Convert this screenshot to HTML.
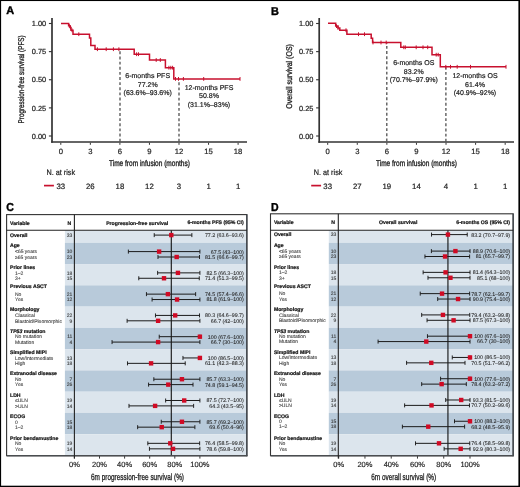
<!DOCTYPE html>
<html><head><meta charset="utf-8"><style>
html,body{margin:0;padding:0;background:#fff;}
body{width:520px;height:487px;overflow:hidden;}
svg{display:block;font-family:"Liberation Sans", sans-serif;text-rendering:geometricPrecision;will-change:transform;}
.km text{stroke:#222;stroke-width:.2px;}
.km text.t{stroke-width:.32px;}
text.L{stroke:#000 !important;stroke-width:.4px !important;}
.fp text[font-weight=bold]{stroke:#111;stroke-width:.2px;}
.fp text{stroke:#333;stroke-width:.08px;}
.fp text.ax{stroke:#222;stroke-width:.15px;}
.fp text.axt{stroke:#222;stroke-width:.3px;}
</style></head><body>
<svg width="520" height="487" viewBox="0 0 520 487">
<rect x="0" y="0" width="520" height="487" fill="#fff"/>
<g class="km">
<text x="6.2" y="14.14" font-size="11" text-anchor="start" fill="#000" font-weight="bold" textLength="7.9" lengthAdjust="spacingAndGlyphs" class="L">A</text>
<line x1="52" y1="18" x2="52" y2="142.8" stroke="#333" stroke-width="1.7" />
<line x1="48.9" y1="136" x2="52" y2="136" stroke="#333" stroke-width="1.1" />
<text x="46.2" y="138.65" font-size="7.4" text-anchor="end" fill="#222">0.00</text>
<line x1="48.9" y1="107.88" x2="52" y2="107.88" stroke="#333" stroke-width="1.1" />
<text x="46.2" y="110.52" font-size="7.4" text-anchor="end" fill="#222">0.25</text>
<line x1="48.9" y1="79.75" x2="52" y2="79.75" stroke="#333" stroke-width="1.1" />
<text x="46.2" y="82.4" font-size="7.4" text-anchor="end" fill="#222">0.50</text>
<line x1="48.9" y1="51.62" x2="52" y2="51.62" stroke="#333" stroke-width="1.1" />
<text x="46.2" y="54.27" font-size="7.4" text-anchor="end" fill="#222">0.75</text>
<line x1="48.9" y1="23.5" x2="52" y2="23.5" stroke="#333" stroke-width="1.1" />
<text x="46.2" y="26.15" font-size="7.4" text-anchor="end" fill="#222">1.00</text>
<line x1="51.2" y1="142" x2="247" y2="142" stroke="#333" stroke-width="1.6" />
<line x1="60.8" y1="142.8" x2="60.8" y2="144.8" stroke="#333" stroke-width="1" />
<text x="60.8" y="153.76" font-size="7.7" text-anchor="middle" fill="#222">0</text>
<line x1="90.35" y1="142.8" x2="90.35" y2="144.8" stroke="#333" stroke-width="1" />
<text x="90.35" y="153.76" font-size="7.7" text-anchor="middle" fill="#222">3</text>
<line x1="119.9" y1="142.8" x2="119.9" y2="144.8" stroke="#333" stroke-width="1" />
<text x="119.9" y="153.76" font-size="7.7" text-anchor="middle" fill="#222">6</text>
<line x1="149.45" y1="142.8" x2="149.45" y2="144.8" stroke="#333" stroke-width="1" />
<text x="149.45" y="153.76" font-size="7.7" text-anchor="middle" fill="#222">9</text>
<line x1="179" y1="142.8" x2="179" y2="144.8" stroke="#333" stroke-width="1" />
<text x="179" y="153.76" font-size="7.7" text-anchor="middle" fill="#222">12</text>
<line x1="208.55" y1="142.8" x2="208.55" y2="144.8" stroke="#333" stroke-width="1" />
<text x="208.55" y="153.76" font-size="7.7" text-anchor="middle" fill="#222">15</text>
<line x1="238.1" y1="142.8" x2="238.1" y2="144.8" stroke="#333" stroke-width="1" />
<text x="238.1" y="153.76" font-size="7.7" text-anchor="middle" fill="#222">18</text>
<text x="149.45" y="166.17" font-size="8.3" text-anchor="middle" fill="#222" textLength="81" lengthAdjust="spacingAndGlyphs" class="t">Time from infusion (months)</text>
<g transform="translate(21.1,79.4) rotate(-90)">
<text x="0" y="2.97" font-size="8.3" text-anchor="middle" fill="#222" textLength="88" lengthAdjust="spacingAndGlyphs" class="t">Progression-free survival (PFS)</text>
</g>
<line x1="120" y1="49.5" x2="120" y2="142" stroke="#505050" stroke-width="1.3" stroke-dasharray="2.9,2.24" stroke-dashoffset="3.29"/>
<line x1="179" y1="79.5" x2="179" y2="142" stroke="#505050" stroke-width="1.3" stroke-dasharray="2.9,2.24" stroke-dashoffset="2.39"/>
<path d="M61,23.5 H68.6 V25.8 H70 V27.5 H71 V30.3 H73 V34.2 H89.5 V38 H90.8 V45.5 H95 V49.2 H134.2 V54.2 H149.5 V60 H165.4 V67.7 H173.8 V78.9 H240" fill="none" stroke="#c8102e" stroke-width="1.5" stroke-linejoin="miter"/>
<line x1="69.3" y1="23.9" x2="69.3" y2="27.7" stroke="#c8102e" stroke-width="1" />
<line x1="70.5" y1="25.6" x2="70.5" y2="29.4" stroke="#c8102e" stroke-width="1" />
<line x1="72" y1="28.4" x2="72" y2="32.2" stroke="#c8102e" stroke-width="1" />
<line x1="78.8" y1="32.3" x2="78.8" y2="36.1" stroke="#c8102e" stroke-width="1" />
<line x1="97.4" y1="47.3" x2="97.4" y2="51.1" stroke="#c8102e" stroke-width="1" />
<line x1="106.2" y1="47.3" x2="106.2" y2="51.1" stroke="#c8102e" stroke-width="1" />
<line x1="113.4" y1="47.3" x2="113.4" y2="51.1" stroke="#c8102e" stroke-width="1" />
<line x1="118.9" y1="47.3" x2="118.9" y2="51.1" stroke="#c8102e" stroke-width="1" />
<line x1="136.6" y1="52.3" x2="136.6" y2="56.1" stroke="#c8102e" stroke-width="1" />
<line x1="138.5" y1="52.3" x2="138.5" y2="56.1" stroke="#c8102e" stroke-width="1" />
<line x1="156.2" y1="58.1" x2="156.2" y2="61.9" stroke="#c8102e" stroke-width="1" />
<line x1="160.3" y1="58.1" x2="160.3" y2="61.9" stroke="#c8102e" stroke-width="1" />
<line x1="168.9" y1="65.8" x2="168.9" y2="69.6" stroke="#c8102e" stroke-width="1" />
<line x1="170.8" y1="65.8" x2="170.8" y2="69.6" stroke="#c8102e" stroke-width="1" />
<line x1="172.6" y1="65.8" x2="172.6" y2="69.6" stroke="#c8102e" stroke-width="1" />
<line x1="175.5" y1="77" x2="175.5" y2="80.8" stroke="#c8102e" stroke-width="1" />
<line x1="178.5" y1="77" x2="178.5" y2="80.8" stroke="#c8102e" stroke-width="1" />
<line x1="183.4" y1="77" x2="183.4" y2="80.8" stroke="#c8102e" stroke-width="1" />
<line x1="203.7" y1="77" x2="203.7" y2="80.8" stroke="#c8102e" stroke-width="1" />
<line x1="240" y1="77" x2="240" y2="80.8" stroke="#c8102e" stroke-width="1" />
<text x="147.7" y="78.01" font-size="7" text-anchor="middle" fill="#222">6-months PFS</text>
<text x="147.7" y="86.51" font-size="7" text-anchor="middle" fill="#222">77.2%</text>
<text x="147.7" y="95.01" font-size="7" text-anchor="middle" fill="#222">(63.6%–93.6%)</text>
<text x="209" y="89.51" font-size="7" text-anchor="middle" fill="#222">12-months PFS</text>
<text x="209" y="98.01" font-size="7" text-anchor="middle" fill="#222">50.8%</text>
<text x="209" y="106.51" font-size="7" text-anchor="middle" fill="#222">(31.1%–83%)</text>
<text x="46.5" y="175.33" font-size="7.9" text-anchor="start" fill="#222" textLength="28.6" lengthAdjust="spacingAndGlyphs">N. at risk</text>
<line x1="44" y1="185.6" x2="53.9" y2="185.6" stroke="#c8102e" stroke-width="1.7" />
<text x="60.8" y="188.79" font-size="7.8" text-anchor="middle" fill="#222">33</text>
<text x="90.35" y="188.79" font-size="7.8" text-anchor="middle" fill="#222">26</text>
<text x="119.9" y="188.79" font-size="7.8" text-anchor="middle" fill="#222">18</text>
<text x="149.45" y="188.79" font-size="7.8" text-anchor="middle" fill="#222">12</text>
<text x="179" y="188.79" font-size="7.8" text-anchor="middle" fill="#222">3</text>
<text x="208.55" y="188.79" font-size="7.8" text-anchor="middle" fill="#222">1</text>
<text x="238.1" y="188.79" font-size="7.8" text-anchor="middle" fill="#222">1</text>
</g>
<g class="km">
<text x="271.1" y="14.63" font-size="11.4" text-anchor="start" fill="#000" font-weight="bold" textLength="7.9" lengthAdjust="spacingAndGlyphs" class="L">B</text>
<line x1="319.2" y1="18" x2="319.2" y2="142.8" stroke="#333" stroke-width="1.7" />
<line x1="316.1" y1="136" x2="319.2" y2="136" stroke="#333" stroke-width="1.1" />
<text x="313.4" y="138.65" font-size="7.4" text-anchor="end" fill="#222">0.00</text>
<line x1="316.1" y1="107.88" x2="319.2" y2="107.88" stroke="#333" stroke-width="1.1" />
<text x="313.4" y="110.52" font-size="7.4" text-anchor="end" fill="#222">0.25</text>
<line x1="316.1" y1="79.75" x2="319.2" y2="79.75" stroke="#333" stroke-width="1.1" />
<text x="313.4" y="82.4" font-size="7.4" text-anchor="end" fill="#222">0.50</text>
<line x1="316.1" y1="51.62" x2="319.2" y2="51.62" stroke="#333" stroke-width="1.1" />
<text x="313.4" y="54.27" font-size="7.4" text-anchor="end" fill="#222">0.75</text>
<line x1="316.1" y1="23.5" x2="319.2" y2="23.5" stroke="#333" stroke-width="1.1" />
<text x="313.4" y="26.15" font-size="7.4" text-anchor="end" fill="#222">1.00</text>
<line x1="318.4" y1="142" x2="514" y2="142" stroke="#333" stroke-width="1.6" />
<line x1="327.7" y1="142.8" x2="327.7" y2="144.8" stroke="#333" stroke-width="1" />
<text x="327.7" y="153.76" font-size="7.7" text-anchor="middle" fill="#222">0</text>
<line x1="357.28" y1="142.8" x2="357.28" y2="144.8" stroke="#333" stroke-width="1" />
<text x="357.28" y="153.76" font-size="7.7" text-anchor="middle" fill="#222">3</text>
<line x1="386.86" y1="142.8" x2="386.86" y2="144.8" stroke="#333" stroke-width="1" />
<text x="386.86" y="153.76" font-size="7.7" text-anchor="middle" fill="#222">6</text>
<line x1="416.44" y1="142.8" x2="416.44" y2="144.8" stroke="#333" stroke-width="1" />
<text x="416.44" y="153.76" font-size="7.7" text-anchor="middle" fill="#222">9</text>
<line x1="446.02" y1="142.8" x2="446.02" y2="144.8" stroke="#333" stroke-width="1" />
<text x="446.02" y="153.76" font-size="7.7" text-anchor="middle" fill="#222">12</text>
<line x1="475.6" y1="142.8" x2="475.6" y2="144.8" stroke="#333" stroke-width="1" />
<text x="475.6" y="153.76" font-size="7.7" text-anchor="middle" fill="#222">15</text>
<line x1="505.18" y1="142.8" x2="505.18" y2="144.8" stroke="#333" stroke-width="1" />
<text x="505.18" y="153.76" font-size="7.7" text-anchor="middle" fill="#222">18</text>
<text x="416.44" y="166.17" font-size="8.3" text-anchor="middle" fill="#222" textLength="81" lengthAdjust="spacingAndGlyphs" class="t">Time from infusion (months)</text>
<g transform="translate(289.3,76.4) rotate(-90)">
<text x="0" y="2.97" font-size="8.3" text-anchor="middle" fill="#222" textLength="64.6" lengthAdjust="spacingAndGlyphs" class="t">Overall survival (OS)</text>
</g>
<line x1="386.8" y1="42.8" x2="386.8" y2="142" stroke="#505050" stroke-width="1.3" stroke-dasharray="2.9,2.24" stroke-dashoffset="1.99"/>
<line x1="445.9" y1="67.2" x2="445.9" y2="142" stroke="#505050" stroke-width="1.3" stroke-dasharray="2.9,2.24" stroke-dashoffset="0.39"/>
<path d="M328,23.3 H335.7 V26.1 H338 V28 H339.8 V30.2 H346.9 V34.2 H371.2 V38.2 H372.6 V42.5 H400.8 V47.3 H432 V54.7 H440.3 V66.8 H506" fill="none" stroke="#c8102e" stroke-width="1.5" stroke-linejoin="miter"/>
<line x1="336.5" y1="24.2" x2="336.5" y2="28" stroke="#c8102e" stroke-width="1" />
<line x1="338" y1="26.1" x2="338" y2="29.9" stroke="#c8102e" stroke-width="1" />
<line x1="346" y1="28.3" x2="346" y2="32.1" stroke="#c8102e" stroke-width="1" />
<line x1="358.5" y1="32.3" x2="358.5" y2="36.1" stroke="#c8102e" stroke-width="1" />
<line x1="364.5" y1="32.3" x2="364.5" y2="36.1" stroke="#c8102e" stroke-width="1" />
<line x1="373" y1="40.6" x2="373" y2="44.4" stroke="#c8102e" stroke-width="1" />
<line x1="381" y1="40.6" x2="381" y2="44.4" stroke="#c8102e" stroke-width="1" />
<line x1="386.2" y1="40.6" x2="386.2" y2="44.4" stroke="#c8102e" stroke-width="1" />
<line x1="403.8" y1="45.4" x2="403.8" y2="49.2" stroke="#c8102e" stroke-width="1" />
<line x1="405.3" y1="45.4" x2="405.3" y2="49.2" stroke="#c8102e" stroke-width="1" />
<line x1="416.2" y1="45.4" x2="416.2" y2="49.2" stroke="#c8102e" stroke-width="1" />
<line x1="423" y1="45.4" x2="423" y2="49.2" stroke="#c8102e" stroke-width="1" />
<line x1="427.7" y1="45.4" x2="427.7" y2="49.2" stroke="#c8102e" stroke-width="1" />
<line x1="436.2" y1="52.8" x2="436.2" y2="56.6" stroke="#c8102e" stroke-width="1" />
<line x1="438.2" y1="52.8" x2="438.2" y2="56.6" stroke="#c8102e" stroke-width="1" />
<line x1="445.8" y1="64.9" x2="445.8" y2="68.7" stroke="#c8102e" stroke-width="1" />
<line x1="450.5" y1="64.9" x2="450.5" y2="68.7" stroke="#c8102e" stroke-width="1" />
<line x1="457.2" y1="64.9" x2="457.2" y2="68.7" stroke="#c8102e" stroke-width="1" />
<line x1="470.5" y1="64.9" x2="470.5" y2="68.7" stroke="#c8102e" stroke-width="1" />
<line x1="506" y1="64.9" x2="506" y2="68.7" stroke="#c8102e" stroke-width="1" />
<text x="413.8" y="64.91" font-size="7" text-anchor="middle" fill="#222">6-months OS</text>
<text x="413.8" y="73.51" font-size="7" text-anchor="middle" fill="#222">83.2%</text>
<text x="413.8" y="82.01" font-size="7" text-anchor="middle" fill="#222">(70.7%–97.9%)</text>
<text x="475" y="78.31" font-size="7" text-anchor="middle" fill="#222">12-months OS</text>
<text x="475" y="86.91" font-size="7" text-anchor="middle" fill="#222">61.4%</text>
<text x="475" y="95.31" font-size="7" text-anchor="middle" fill="#222">(40.9%–92%)</text>
<text x="313.8" y="175.33" font-size="7.9" text-anchor="start" fill="#222" textLength="28.6" lengthAdjust="spacingAndGlyphs">N. at risk</text>
<line x1="311.2" y1="185.6" x2="321.1" y2="185.6" stroke="#c8102e" stroke-width="1.7" />
<text x="327.7" y="188.79" font-size="7.8" text-anchor="middle" fill="#222">33</text>
<text x="357.28" y="188.79" font-size="7.8" text-anchor="middle" fill="#222">27</text>
<text x="386.86" y="188.79" font-size="7.8" text-anchor="middle" fill="#222">19</text>
<text x="416.44" y="188.79" font-size="7.8" text-anchor="middle" fill="#222">14</text>
<text x="446.02" y="188.79" font-size="7.8" text-anchor="middle" fill="#222">4</text>
<text x="475.6" y="188.79" font-size="7.8" text-anchor="middle" fill="#222">1</text>
<text x="505.18" y="188.79" font-size="7.8" text-anchor="middle" fill="#222">1</text>
</g>
<g class="fp">
<text x="6.3" y="210.87" font-size="11.5" text-anchor="start" fill="#000" font-weight="bold" textLength="7.6" lengthAdjust="spacingAndGlyphs" class="L">C</text>
<rect x="64.9" y="230.3" width="182" height="12.5" fill="#dce5ed" />
<rect x="64.9" y="242.8" width="182" height="21.27" fill="#b8cada" />
<rect x="64.9" y="264.07" width="182" height="21.27" fill="#dce5ed" />
<rect x="64.9" y="285.34" width="182" height="21.27" fill="#b8cada" />
<rect x="64.9" y="306.61" width="182" height="21.27" fill="#dce5ed" />
<rect x="64.9" y="327.88" width="182" height="21.27" fill="#b8cada" />
<rect x="64.9" y="349.15" width="182" height="21.27" fill="#dce5ed" />
<rect x="64.9" y="370.42" width="182" height="21.27" fill="#b8cada" />
<rect x="64.9" y="391.69" width="182" height="21.27" fill="#dce5ed" />
<rect x="64.9" y="412.96" width="182" height="21.27" fill="#b8cada" />
<rect x="64.9" y="434.23" width="182" height="21.27" fill="#dce5ed" />
<line x1="171.29" y1="230.3" x2="171.29" y2="455.6" stroke="#111" stroke-width="1.1" />
<line x1="74.4" y1="455.6" x2="74.4" y2="458.6" stroke="#222" stroke-width="0.9" />
<text x="74.4" y="467.29" font-size="7.5" text-anchor="middle" fill="#222" class="ax">0%</text>
<line x1="99.5" y1="455.6" x2="99.5" y2="458.6" stroke="#222" stroke-width="0.9" />
<text x="99.5" y="467.29" font-size="7.5" text-anchor="middle" fill="#222" class="ax">20%</text>
<line x1="124.6" y1="455.6" x2="124.6" y2="458.6" stroke="#222" stroke-width="0.9" />
<text x="124.6" y="467.29" font-size="7.5" text-anchor="middle" fill="#222" class="ax">40%</text>
<line x1="149.7" y1="455.6" x2="149.7" y2="458.6" stroke="#222" stroke-width="0.9" />
<text x="149.7" y="467.29" font-size="7.5" text-anchor="middle" fill="#222" class="ax">60%</text>
<line x1="174.8" y1="455.6" x2="174.8" y2="458.6" stroke="#222" stroke-width="0.9" />
<text x="174.8" y="467.29" font-size="7.5" text-anchor="middle" fill="#222" class="ax">80%</text>
<line x1="199.9" y1="455.6" x2="199.9" y2="458.6" stroke="#222" stroke-width="0.9" />
<text x="199.9" y="467.29" font-size="7.5" text-anchor="middle" fill="#222" class="ax">100%</text>
<text x="137.5" y="479.82" font-size="9" text-anchor="middle" fill="#222" textLength="93" lengthAdjust="spacingAndGlyphs" class="axt">6m progression-free survival (%)</text>
<rect x="6.6" y="214.6" width="240.3" height="241" fill="none" stroke="#333" stroke-width="1.1"/>
<line x1="246.8" y1="214.6" x2="246.8" y2="456.2" stroke="#3c434a" stroke-width="1.2" />
<line x1="6.6" y1="455.8" x2="247.4" y2="455.8" stroke="#4a4d50" stroke-width="1.5" />
<line x1="6.6" y1="230.3" x2="246.9" y2="230.3" stroke="#222" stroke-width="1.1" />
<line x1="74.4" y1="214.6" x2="74.4" y2="458.6" stroke="#222" stroke-width="1.1" />
<text x="10" y="224.84" font-size="5.15" text-anchor="start" fill="#111" font-weight="bold">Variable</text>
<text x="69.3" y="224.74" font-size="5.15" text-anchor="middle" fill="#111" font-weight="bold">N</text>
<text x="137.2" y="224.74" font-size="5.15" text-anchor="middle" fill="#111" font-weight="bold">Progression-free survival</text>
<text x="243.7" y="224.44" font-size="5.15" text-anchor="end" fill="#111" font-weight="bold">6-months PFS (95% CI)</text>
<text x="10" y="236.94" font-size="5.15" text-anchor="start" fill="#111" font-weight="bold">Overall</text>
<text x="72.4" y="236.89" font-size="5" text-anchor="end" fill="#333">33</text>
<line x1="154.22" y1="235.1" x2="191.87" y2="235.1" stroke="#1a1a1a" stroke-width="1" />
<line x1="154.22" y1="233.1" x2="154.22" y2="237.1" stroke="#1a1a1a" stroke-width="0.95" />
<line x1="191.87" y1="233.1" x2="191.87" y2="237.1" stroke="#1a1a1a" stroke-width="0.95" />
<rect x="169.09" y="232.9" width="4.4" height="4.4" fill="#d00a24" />
<text x="243.8" y="237" font-size="5.3" text-anchor="end" fill="#222">77.2 (63.6–93.6)</text>
<text x="10" y="246.84" font-size="5.15" text-anchor="start" fill="#111" font-weight="bold">Age</text>
<text x="15" y="253.39" font-size="5" text-anchor="start" fill="#3a3a3a">&lt;65 years</text>
<text x="15" y="258.79" font-size="5" text-anchor="start" fill="#3a3a3a">≥65 years</text>
<text x="72.4" y="253.39" font-size="5" text-anchor="end" fill="#333">10</text>
<line x1="128.37" y1="251.6" x2="199.9" y2="251.6" stroke="#1a1a1a" stroke-width="1" />
<line x1="128.37" y1="249.6" x2="128.37" y2="253.6" stroke="#1a1a1a" stroke-width="0.95" />
<line x1="199.9" y1="249.6" x2="199.9" y2="253.6" stroke="#1a1a1a" stroke-width="0.95" />
<rect x="156.91" y="249.4" width="4.4" height="4.4" fill="#d00a24" />
<text x="243.8" y="253.5" font-size="5.3" text-anchor="end" fill="#222">67.5 (43–100)</text>
<text x="72.4" y="258.79" font-size="5" text-anchor="end" fill="#333">23</text>
<line x1="157.98" y1="257" x2="199.52" y2="257" stroke="#1a1a1a" stroke-width="1" />
<line x1="157.98" y1="255" x2="157.98" y2="259" stroke="#1a1a1a" stroke-width="0.95" />
<line x1="199.52" y1="255" x2="199.52" y2="259" stroke="#1a1a1a" stroke-width="0.95" />
<rect x="174.48" y="254.8" width="4.4" height="4.4" fill="#d00a24" />
<text x="243.8" y="258.9" font-size="5.3" text-anchor="end" fill="#222">81.5 (66.6–99.7)</text>
<text x="10" y="269.41" font-size="5.15" text-anchor="start" fill="#111" font-weight="bold">Prior lines</text>
<text x="15" y="274.66" font-size="5" text-anchor="start" fill="#3a3a3a">1–2</text>
<text x="15" y="280.06" font-size="5" text-anchor="start" fill="#3a3a3a">3+</text>
<text x="72.4" y="274.66" font-size="5" text-anchor="end" fill="#333">18</text>
<line x1="157.61" y1="272.87" x2="199.9" y2="272.87" stroke="#1a1a1a" stroke-width="1" />
<line x1="157.61" y1="270.87" x2="157.61" y2="274.87" stroke="#1a1a1a" stroke-width="0.95" />
<line x1="199.9" y1="270.87" x2="199.9" y2="274.87" stroke="#1a1a1a" stroke-width="0.95" />
<rect x="175.74" y="270.67" width="4.4" height="4.4" fill="#d00a24" />
<text x="243.8" y="274.77" font-size="5.3" text-anchor="end" fill="#222">82.5 (66.3–100)</text>
<text x="72.4" y="280.06" font-size="5" text-anchor="end" fill="#333">15</text>
<line x1="138.78" y1="278.27" x2="199.27" y2="278.27" stroke="#1a1a1a" stroke-width="1" />
<line x1="138.78" y1="276.27" x2="138.78" y2="280.27" stroke="#1a1a1a" stroke-width="0.95" />
<line x1="199.27" y1="276.27" x2="199.27" y2="280.27" stroke="#1a1a1a" stroke-width="0.95" />
<rect x="161.81" y="276.07" width="4.4" height="4.4" fill="#d00a24" />
<text x="243.8" y="280.17" font-size="5.3" text-anchor="end" fill="#222">71.4 (51.3–99.5)</text>
<text x="10" y="288.18" font-size="5.15" text-anchor="start" fill="#111" font-weight="bold">Previous ASCT</text>
<text x="15" y="295.93" font-size="5" text-anchor="start" fill="#3a3a3a">No</text>
<text x="15" y="301.33" font-size="5" text-anchor="start" fill="#3a3a3a">Yes</text>
<text x="72.4" y="295.93" font-size="5" text-anchor="end" fill="#333">21</text>
<line x1="146.44" y1="294.14" x2="195.63" y2="294.14" stroke="#1a1a1a" stroke-width="1" />
<line x1="146.44" y1="292.14" x2="146.44" y2="296.14" stroke="#1a1a1a" stroke-width="0.95" />
<line x1="195.63" y1="292.14" x2="195.63" y2="296.14" stroke="#1a1a1a" stroke-width="0.95" />
<rect x="165.7" y="291.94" width="4.4" height="4.4" fill="#d00a24" />
<text x="243.8" y="296.04" font-size="5.3" text-anchor="end" fill="#222">74.5 (57.4–96.6)</text>
<text x="72.4" y="301.33" font-size="5" text-anchor="end" fill="#333">12</text>
<line x1="152.08" y1="299.54" x2="199.9" y2="299.54" stroke="#1a1a1a" stroke-width="1" />
<line x1="152.08" y1="297.54" x2="152.08" y2="301.54" stroke="#1a1a1a" stroke-width="0.95" />
<line x1="199.9" y1="297.54" x2="199.9" y2="301.54" stroke="#1a1a1a" stroke-width="0.95" />
<rect x="174.86" y="297.34" width="4.4" height="4.4" fill="#d00a24" />
<text x="243.8" y="301.44" font-size="5.3" text-anchor="end" fill="#222">81.8 (61.9–100)</text>
<text x="10" y="311.35" font-size="5.15" text-anchor="start" fill="#111" font-weight="bold">Morphology</text>
<text x="15" y="317.2" font-size="5" text-anchor="start" fill="#3a3a3a">Classical</text>
<text x="15" y="322.6" font-size="5" text-anchor="start" fill="#3a3a3a">Blastoid/Pleomorphic</text>
<text x="72.4" y="317.2" font-size="5" text-anchor="end" fill="#333">22</text>
<line x1="155.47" y1="315.41" x2="199.52" y2="315.41" stroke="#1a1a1a" stroke-width="1" />
<line x1="155.47" y1="313.41" x2="155.47" y2="317.41" stroke="#1a1a1a" stroke-width="0.95" />
<line x1="199.52" y1="313.41" x2="199.52" y2="317.41" stroke="#1a1a1a" stroke-width="0.95" />
<rect x="172.98" y="313.21" width="4.4" height="4.4" fill="#d00a24" />
<text x="243.8" y="317.31" font-size="5.3" text-anchor="end" fill="#222">80.3 (64.6–99.7)</text>
<text x="72.4" y="322.6" font-size="5" text-anchor="end" fill="#333">9</text>
<line x1="127.11" y1="320.81" x2="199.9" y2="320.81" stroke="#1a1a1a" stroke-width="1" />
<line x1="127.11" y1="318.81" x2="127.11" y2="322.81" stroke="#1a1a1a" stroke-width="0.95" />
<line x1="199.9" y1="318.81" x2="199.9" y2="322.81" stroke="#1a1a1a" stroke-width="0.95" />
<rect x="155.91" y="318.61" width="4.4" height="4.4" fill="#d00a24" />
<text x="243.8" y="322.71" font-size="5.3" text-anchor="end" fill="#222">66.7 (42–100)</text>
<text x="10" y="333.42" font-size="5.15" font-weight="bold" fill="#111"><tspan font-style="italic">TP53</tspan> mutation</text>
<text x="15" y="338.47" font-size="5" text-anchor="start" fill="#3a3a3a">No mutation</text>
<text x="15" y="343.87" font-size="5" text-anchor="start" fill="#3a3a3a">Mutation</text>
<text x="72.4" y="338.47" font-size="5" text-anchor="end" fill="#333">11</text>
<line x1="159.24" y1="336.68" x2="199.9" y2="336.68" stroke="#1a1a1a" stroke-width="1" />
<line x1="159.24" y1="334.68" x2="159.24" y2="338.68" stroke="#1a1a1a" stroke-width="0.95" />
<line x1="199.9" y1="334.68" x2="199.9" y2="338.68" stroke="#1a1a1a" stroke-width="0.95" />
<rect x="197.7" y="334.48" width="4.4" height="4.4" fill="#d00a24" />
<text x="243.8" y="338.58" font-size="5.3" text-anchor="end" fill="#222">100 (67.6–100)</text>
<text x="72.4" y="343.87" font-size="5" text-anchor="end" fill="#333">4</text>
<line x1="112.05" y1="342.08" x2="199.9" y2="342.08" stroke="#1a1a1a" stroke-width="1" />
<line x1="112.05" y1="340.08" x2="112.05" y2="344.08" stroke="#1a1a1a" stroke-width="0.95" />
<line x1="199.9" y1="340.08" x2="199.9" y2="344.08" stroke="#1a1a1a" stroke-width="0.95" />
<rect x="155.91" y="339.88" width="4.4" height="4.4" fill="#d00a24" />
<text x="243.8" y="343.98" font-size="5.3" text-anchor="end" fill="#222">66.7 (30–100)</text>
<text x="10" y="353.99" font-size="5.15" text-anchor="start" fill="#111" font-weight="bold">Simplified MIPI</text>
<text x="15" y="359.74" font-size="5" text-anchor="start" fill="#3a3a3a">Low/Intermediate</text>
<text x="15" y="365.14" font-size="5" text-anchor="start" fill="#3a3a3a">High</text>
<text x="72.4" y="359.74" font-size="5" text-anchor="end" fill="#333">13</text>
<line x1="182.96" y1="357.95" x2="199.9" y2="357.95" stroke="#1a1a1a" stroke-width="1" />
<line x1="182.96" y1="355.95" x2="182.96" y2="359.95" stroke="#1a1a1a" stroke-width="0.95" />
<line x1="199.9" y1="355.95" x2="199.9" y2="359.95" stroke="#1a1a1a" stroke-width="0.95" />
<rect x="197.7" y="355.75" width="4.4" height="4.4" fill="#d00a24" />
<text x="243.8" y="359.85" font-size="5.3" text-anchor="end" fill="#222">100 (86.5–100)</text>
<text x="72.4" y="365.14" font-size="5" text-anchor="end" fill="#333">18</text>
<line x1="127.49" y1="363.35" x2="185.22" y2="363.35" stroke="#1a1a1a" stroke-width="1" />
<line x1="127.49" y1="361.35" x2="127.49" y2="365.35" stroke="#1a1a1a" stroke-width="0.95" />
<line x1="185.22" y1="361.35" x2="185.22" y2="365.35" stroke="#1a1a1a" stroke-width="0.95" />
<rect x="148.88" y="361.15" width="4.4" height="4.4" fill="#d00a24" />
<text x="243.8" y="365.25" font-size="5.3" text-anchor="end" fill="#222">61.1 (42.3–88.3)</text>
<text x="10" y="374.86" font-size="5.15" text-anchor="start" fill="#111" font-weight="bold">Extranodal disease</text>
<text x="15" y="381.01" font-size="5" text-anchor="start" fill="#3a3a3a">No</text>
<text x="15" y="386.41" font-size="5" text-anchor="start" fill="#3a3a3a">Yes</text>
<text x="72.4" y="381.01" font-size="5" text-anchor="end" fill="#333">7</text>
<line x1="153.84" y1="379.22" x2="199.9" y2="379.22" stroke="#1a1a1a" stroke-width="1" />
<line x1="153.84" y1="377.22" x2="153.84" y2="381.22" stroke="#1a1a1a" stroke-width="0.95" />
<line x1="199.9" y1="377.22" x2="199.9" y2="381.22" stroke="#1a1a1a" stroke-width="0.95" />
<rect x="179.75" y="377.02" width="4.4" height="4.4" fill="#d00a24" />
<text x="243.8" y="381.12" font-size="5.3" text-anchor="end" fill="#222">85.7 (63.3–100)</text>
<text x="72.4" y="386.41" font-size="5" text-anchor="end" fill="#333">26</text>
<line x1="148.57" y1="384.62" x2="193" y2="384.62" stroke="#1a1a1a" stroke-width="1" />
<line x1="148.57" y1="382.62" x2="148.57" y2="386.62" stroke="#1a1a1a" stroke-width="0.95" />
<line x1="193" y1="382.62" x2="193" y2="386.62" stroke="#1a1a1a" stroke-width="0.95" />
<rect x="166.07" y="382.42" width="4.4" height="4.4" fill="#d00a24" />
<text x="243.8" y="386.52" font-size="5.3" text-anchor="end" fill="#222">74.8 (59.1–94.5)</text>
<text x="10" y="396.93" font-size="5.15" text-anchor="start" fill="#111" font-weight="bold">LDH</text>
<text x="15" y="402.28" font-size="5" text-anchor="start" fill="#3a3a3a">≤ULN</text>
<text x="15" y="407.68" font-size="5" text-anchor="start" fill="#3a3a3a">&gt;ULN</text>
<text x="72.4" y="402.28" font-size="5" text-anchor="end" fill="#333">19</text>
<line x1="165.64" y1="400.49" x2="199.9" y2="400.49" stroke="#1a1a1a" stroke-width="1" />
<line x1="165.64" y1="398.49" x2="165.64" y2="402.49" stroke="#1a1a1a" stroke-width="0.95" />
<line x1="199.9" y1="398.49" x2="199.9" y2="402.49" stroke="#1a1a1a" stroke-width="0.95" />
<rect x="182.01" y="398.29" width="4.4" height="4.4" fill="#d00a24" />
<text x="243.8" y="402.39" font-size="5.3" text-anchor="end" fill="#222">87.5 (72.7–100)</text>
<text x="72.4" y="407.68" font-size="5" text-anchor="end" fill="#333">14</text>
<line x1="128.99" y1="405.89" x2="193.62" y2="405.89" stroke="#1a1a1a" stroke-width="1" />
<line x1="128.99" y1="403.89" x2="128.99" y2="407.89" stroke="#1a1a1a" stroke-width="0.95" />
<line x1="193.62" y1="403.89" x2="193.62" y2="407.89" stroke="#1a1a1a" stroke-width="0.95" />
<rect x="152.9" y="403.69" width="4.4" height="4.4" fill="#d00a24" />
<text x="243.8" y="407.79" font-size="5.3" text-anchor="end" fill="#222">64.3 (43.5–95)</text>
<text x="10" y="418.1" font-size="5.15" text-anchor="start" fill="#111" font-weight="bold">ECOG</text>
<text x="15" y="423.55" font-size="5" text-anchor="start" fill="#3a3a3a">0</text>
<text x="15" y="428.95" font-size="5" text-anchor="start" fill="#3a3a3a">1–2</text>
<text x="72.4" y="423.55" font-size="5" text-anchor="end" fill="#333">15</text>
<line x1="161.25" y1="421.76" x2="199.9" y2="421.76" stroke="#1a1a1a" stroke-width="1" />
<line x1="161.25" y1="419.76" x2="161.25" y2="423.76" stroke="#1a1a1a" stroke-width="0.95" />
<line x1="199.9" y1="419.76" x2="199.9" y2="423.76" stroke="#1a1a1a" stroke-width="0.95" />
<rect x="179.75" y="419.56" width="4.4" height="4.4" fill="#d00a24" />
<text x="243.8" y="423.66" font-size="5.3" text-anchor="end" fill="#222">85.7 (69.2–100)</text>
<text x="72.4" y="428.95" font-size="5" text-anchor="end" fill="#333">18</text>
<line x1="137.65" y1="427.16" x2="194.88" y2="427.16" stroke="#1a1a1a" stroke-width="1" />
<line x1="137.65" y1="425.16" x2="137.65" y2="429.16" stroke="#1a1a1a" stroke-width="0.95" />
<line x1="194.88" y1="425.16" x2="194.88" y2="429.16" stroke="#1a1a1a" stroke-width="0.95" />
<rect x="159.55" y="424.96" width="4.4" height="4.4" fill="#d00a24" />
<text x="243.8" y="429.06" font-size="5.3" text-anchor="end" fill="#222">69.6 (50.4–96)</text>
<text x="10" y="440.17" font-size="5.15" text-anchor="start" fill="#111" font-weight="bold">Prior bendamustine</text>
<text x="15" y="445.12" font-size="5" text-anchor="start" fill="#3a3a3a">No</text>
<text x="15" y="450.62" font-size="5" text-anchor="start" fill="#3a3a3a">Yes</text>
<text x="72.4" y="445.12" font-size="5" text-anchor="end" fill="#333">19</text>
<line x1="147.82" y1="443.33" x2="199.65" y2="443.33" stroke="#1a1a1a" stroke-width="1" />
<line x1="147.82" y1="441.33" x2="147.82" y2="445.33" stroke="#1a1a1a" stroke-width="0.95" />
<line x1="199.65" y1="441.33" x2="199.65" y2="445.33" stroke="#1a1a1a" stroke-width="0.95" />
<rect x="168.08" y="441.13" width="4.4" height="4.4" fill="#d00a24" />
<text x="243.8" y="445.23" font-size="5.3" text-anchor="end" fill="#222">76.4 (58.5–99.8)</text>
<text x="72.4" y="450.62" font-size="5" text-anchor="end" fill="#333">14</text>
<line x1="149.45" y1="448.83" x2="199.9" y2="448.83" stroke="#1a1a1a" stroke-width="1" />
<line x1="149.45" y1="446.83" x2="149.45" y2="450.83" stroke="#1a1a1a" stroke-width="0.95" />
<line x1="199.9" y1="446.83" x2="199.9" y2="450.83" stroke="#1a1a1a" stroke-width="0.95" />
<rect x="170.84" y="446.63" width="4.4" height="4.4" fill="#d00a24" />
<text x="243.8" y="450.73" font-size="5.3" text-anchor="end" fill="#222">78.6 (59.8–100)</text>
</g>
<g class="fp">
<text x="271.1" y="210.87" font-size="11.5" text-anchor="start" fill="#000" font-weight="bold" textLength="7.6" lengthAdjust="spacingAndGlyphs" class="L">D</text>
<rect x="328.8" y="230.3" width="184.4" height="12.5" fill="#dce5ed" />
<rect x="328.8" y="242.8" width="184.4" height="21.27" fill="#b8cada" />
<rect x="328.8" y="264.07" width="184.4" height="21.27" fill="#dce5ed" />
<rect x="328.8" y="285.34" width="184.4" height="21.27" fill="#b8cada" />
<rect x="328.8" y="306.61" width="184.4" height="21.27" fill="#dce5ed" />
<rect x="328.8" y="327.88" width="184.4" height="21.27" fill="#b8cada" />
<rect x="328.8" y="349.15" width="184.4" height="21.27" fill="#dce5ed" />
<rect x="328.8" y="370.42" width="184.4" height="21.27" fill="#b8cada" />
<rect x="328.8" y="391.69" width="184.4" height="21.27" fill="#dce5ed" />
<rect x="328.8" y="412.96" width="184.4" height="21.27" fill="#b8cada" />
<rect x="328.8" y="434.23" width="184.4" height="21.27" fill="#dce5ed" />
<line x1="447.94" y1="230.3" x2="447.94" y2="455.6" stroke="#111" stroke-width="1.1" />
<line x1="338.7" y1="455.6" x2="338.7" y2="458.6" stroke="#222" stroke-width="0.9" />
<text x="338.7" y="467.29" font-size="7.5" text-anchor="middle" fill="#222" class="ax">0%</text>
<line x1="364.96" y1="455.6" x2="364.96" y2="458.6" stroke="#222" stroke-width="0.9" />
<text x="364.96" y="467.29" font-size="7.5" text-anchor="middle" fill="#222" class="ax">20%</text>
<line x1="391.22" y1="455.6" x2="391.22" y2="458.6" stroke="#222" stroke-width="0.9" />
<text x="391.22" y="467.29" font-size="7.5" text-anchor="middle" fill="#222" class="ax">40%</text>
<line x1="417.48" y1="455.6" x2="417.48" y2="458.6" stroke="#222" stroke-width="0.9" />
<text x="417.48" y="467.29" font-size="7.5" text-anchor="middle" fill="#222" class="ax">60%</text>
<line x1="443.74" y1="455.6" x2="443.74" y2="458.6" stroke="#222" stroke-width="0.9" />
<text x="443.74" y="467.29" font-size="7.5" text-anchor="middle" fill="#222" class="ax">80%</text>
<line x1="470" y1="455.6" x2="470" y2="458.6" stroke="#222" stroke-width="0.9" />
<text x="470" y="467.29" font-size="7.5" text-anchor="middle" fill="#222" class="ax">100%</text>
<text x="403.7" y="479.82" font-size="9" text-anchor="middle" fill="#222" textLength="65" lengthAdjust="spacingAndGlyphs" class="axt">6m overall survival (%)</text>
<rect x="270.5" y="213.8" width="242.7" height="241.8" fill="none" stroke="#333" stroke-width="1.1"/>
<line x1="513.1" y1="213.8" x2="513.1" y2="456.2" stroke="#3c434a" stroke-width="1.2" />
<line x1="270.5" y1="455.8" x2="513.7" y2="455.8" stroke="#4a4d50" stroke-width="1.5" />
<line x1="270.5" y1="230.3" x2="513.2" y2="230.3" stroke="#222" stroke-width="1.1" />
<line x1="338.3" y1="213.8" x2="338.3" y2="458.6" stroke="#222" stroke-width="1.1" />
<text x="273.9" y="224.24" font-size="5.15" text-anchor="start" fill="#111" font-weight="bold">Variable</text>
<text x="333.2" y="224.14" font-size="5.15" text-anchor="middle" fill="#111" font-weight="bold">N</text>
<text x="398.2" y="224.14" font-size="5.15" text-anchor="middle" fill="#111" font-weight="bold">Overall survival</text>
<text x="510" y="223.84" font-size="5.15" text-anchor="end" fill="#111" font-weight="bold">6-months OS (95% CI)</text>
<text x="273.9" y="236.44" font-size="5.15" text-anchor="start" fill="#111" font-weight="bold">Overall</text>
<text x="336.3" y="236.39" font-size="5" text-anchor="end" fill="#333">33</text>
<line x1="431.53" y1="234.6" x2="467.24" y2="234.6" stroke="#1a1a1a" stroke-width="1" />
<line x1="431.53" y1="232.6" x2="431.53" y2="236.6" stroke="#1a1a1a" stroke-width="0.95" />
<line x1="467.24" y1="232.6" x2="467.24" y2="236.6" stroke="#1a1a1a" stroke-width="0.95" />
<rect x="445.74" y="232.4" width="4.4" height="4.4" fill="#d00a24" />
<text x="510.1" y="236.5" font-size="5.3" text-anchor="end" fill="#222">83.2 (70.7–97.9)</text>
<text x="273.9" y="246.84" font-size="5.15" text-anchor="start" fill="#111" font-weight="bold">Age</text>
<text x="278.9" y="252.89" font-size="5" text-anchor="start" fill="#3a3a3a">&lt;65 years</text>
<text x="278.9" y="258.29" font-size="5" text-anchor="start" fill="#3a3a3a">≥65 years</text>
<text x="336.3" y="252.89" font-size="5" text-anchor="end" fill="#333">10</text>
<line x1="431.4" y1="251.1" x2="470" y2="251.1" stroke="#1a1a1a" stroke-width="1" />
<line x1="431.4" y1="249.1" x2="431.4" y2="253.1" stroke="#1a1a1a" stroke-width="0.95" />
<line x1="470" y1="249.1" x2="470" y2="253.1" stroke="#1a1a1a" stroke-width="0.95" />
<rect x="453.23" y="248.9" width="4.4" height="4.4" fill="#d00a24" />
<text x="510.1" y="253" font-size="5.3" text-anchor="end" fill="#222">88.9 (70.6–100)</text>
<text x="336.3" y="258.29" font-size="5" text-anchor="end" fill="#333">23</text>
<line x1="424.96" y1="256.5" x2="469.61" y2="256.5" stroke="#1a1a1a" stroke-width="1" />
<line x1="424.96" y1="254.5" x2="424.96" y2="258.5" stroke="#1a1a1a" stroke-width="0.95" />
<line x1="469.61" y1="254.5" x2="469.61" y2="258.5" stroke="#1a1a1a" stroke-width="0.95" />
<rect x="442.85" y="254.3" width="4.4" height="4.4" fill="#d00a24" />
<text x="510.1" y="258.4" font-size="5.3" text-anchor="end" fill="#222">81 (65.7–99.7)</text>
<text x="273.9" y="269.41" font-size="5.15" text-anchor="start" fill="#111" font-weight="bold">Prior lines</text>
<text x="278.9" y="274.16" font-size="5" text-anchor="start" fill="#3a3a3a">1–2</text>
<text x="278.9" y="279.56" font-size="5" text-anchor="start" fill="#3a3a3a">3+</text>
<text x="336.3" y="274.16" font-size="5" text-anchor="end" fill="#333">18</text>
<line x1="423.13" y1="272.37" x2="470" y2="272.37" stroke="#1a1a1a" stroke-width="1" />
<line x1="423.13" y1="270.37" x2="423.13" y2="274.37" stroke="#1a1a1a" stroke-width="0.95" />
<line x1="470" y1="270.37" x2="470" y2="274.37" stroke="#1a1a1a" stroke-width="0.95" />
<rect x="443.38" y="270.17" width="4.4" height="4.4" fill="#d00a24" />
<text x="510.1" y="274.27" font-size="5.3" text-anchor="end" fill="#222">81.4 (64.3–100)</text>
<text x="336.3" y="279.56" font-size="5" text-anchor="end" fill="#333">15</text>
<line x1="427.98" y1="277.77" x2="470" y2="277.77" stroke="#1a1a1a" stroke-width="1" />
<line x1="427.98" y1="275.77" x2="427.98" y2="279.77" stroke="#1a1a1a" stroke-width="0.95" />
<line x1="470" y1="275.77" x2="470" y2="279.77" stroke="#1a1a1a" stroke-width="0.95" />
<rect x="448.24" y="275.57" width="4.4" height="4.4" fill="#d00a24" />
<text x="510.1" y="279.67" font-size="5.3" text-anchor="end" fill="#222">85.1 (68–100)</text>
<text x="273.9" y="288.18" font-size="5.15" text-anchor="start" fill="#111" font-weight="bold">Previous ASCT</text>
<text x="278.9" y="295.43" font-size="5" text-anchor="start" fill="#3a3a3a">No</text>
<text x="278.9" y="300.83" font-size="5" text-anchor="start" fill="#3a3a3a">Yes</text>
<text x="336.3" y="295.43" font-size="5" text-anchor="end" fill="#333">21</text>
<line x1="420.24" y1="293.64" x2="469.61" y2="293.64" stroke="#1a1a1a" stroke-width="1" />
<line x1="420.24" y1="291.64" x2="420.24" y2="295.64" stroke="#1a1a1a" stroke-width="0.95" />
<line x1="469.61" y1="291.64" x2="469.61" y2="295.64" stroke="#1a1a1a" stroke-width="0.95" />
<rect x="439.83" y="291.44" width="4.4" height="4.4" fill="#d00a24" />
<text x="510.1" y="295.54" font-size="5.3" text-anchor="end" fill="#222">78.7 (62.1–99.7)</text>
<text x="336.3" y="300.83" font-size="5" text-anchor="end" fill="#333">12</text>
<line x1="437.7" y1="299.04" x2="470" y2="299.04" stroke="#1a1a1a" stroke-width="1" />
<line x1="437.7" y1="297.04" x2="437.7" y2="301.04" stroke="#1a1a1a" stroke-width="0.95" />
<line x1="470" y1="297.04" x2="470" y2="301.04" stroke="#1a1a1a" stroke-width="0.95" />
<rect x="455.85" y="296.84" width="4.4" height="4.4" fill="#d00a24" />
<text x="510.1" y="300.94" font-size="5.3" text-anchor="end" fill="#222">90.9 (75.4–100)</text>
<text x="273.9" y="311.35" font-size="5.15" text-anchor="start" fill="#111" font-weight="bold">Morphology</text>
<text x="278.9" y="316.7" font-size="5" text-anchor="start" fill="#3a3a3a">Classical</text>
<text x="278.9" y="322.1" font-size="5" text-anchor="start" fill="#3a3a3a">Blastoid/Pleomorphic</text>
<text x="336.3" y="316.7" font-size="5" text-anchor="end" fill="#333">22</text>
<line x1="421.68" y1="314.91" x2="469.74" y2="314.91" stroke="#1a1a1a" stroke-width="1" />
<line x1="421.68" y1="312.91" x2="421.68" y2="316.91" stroke="#1a1a1a" stroke-width="0.95" />
<line x1="469.74" y1="312.91" x2="469.74" y2="316.91" stroke="#1a1a1a" stroke-width="0.95" />
<rect x="440.75" y="312.71" width="4.4" height="4.4" fill="#d00a24" />
<text x="510.1" y="316.81" font-size="5.3" text-anchor="end" fill="#222">79.4 (63.2–99.8)</text>
<text x="336.3" y="322.1" font-size="5" text-anchor="end" fill="#333">9</text>
<line x1="427.06" y1="320.31" x2="470" y2="320.31" stroke="#1a1a1a" stroke-width="1" />
<line x1="427.06" y1="318.31" x2="427.06" y2="322.31" stroke="#1a1a1a" stroke-width="0.95" />
<line x1="470" y1="318.31" x2="470" y2="322.31" stroke="#1a1a1a" stroke-width="0.95" />
<rect x="451.39" y="318.11" width="4.4" height="4.4" fill="#d00a24" />
<text x="510.1" y="322.21" font-size="5.3" text-anchor="end" fill="#222">87.5 (67.3–100)</text>
<text x="273.9" y="333.42" font-size="5.15" font-weight="bold" fill="#111"><tspan font-style="italic">TP53</tspan> mutation</text>
<text x="278.9" y="337.97" font-size="5" text-anchor="start" fill="#3a3a3a">No mutation</text>
<text x="278.9" y="343.37" font-size="5" text-anchor="start" fill="#3a3a3a">Mutation</text>
<text x="336.3" y="337.97" font-size="5" text-anchor="end" fill="#333">11</text>
<line x1="427.46" y1="336.18" x2="470" y2="336.18" stroke="#1a1a1a" stroke-width="1" />
<line x1="427.46" y1="334.18" x2="427.46" y2="338.18" stroke="#1a1a1a" stroke-width="0.95" />
<line x1="470" y1="334.18" x2="470" y2="338.18" stroke="#1a1a1a" stroke-width="0.95" />
<rect x="467.8" y="333.98" width="4.4" height="4.4" fill="#d00a24" />
<text x="510.1" y="338.08" font-size="5.3" text-anchor="end" fill="#222">100 (67.6–100)</text>
<text x="336.3" y="343.37" font-size="5" text-anchor="end" fill="#333">4</text>
<line x1="378.09" y1="341.58" x2="470" y2="341.58" stroke="#1a1a1a" stroke-width="1" />
<line x1="378.09" y1="339.58" x2="378.09" y2="343.58" stroke="#1a1a1a" stroke-width="0.95" />
<line x1="470" y1="339.58" x2="470" y2="343.58" stroke="#1a1a1a" stroke-width="0.95" />
<rect x="424.08" y="339.38" width="4.4" height="4.4" fill="#d00a24" />
<text x="510.1" y="343.48" font-size="5.3" text-anchor="end" fill="#222">66.7 (30–100)</text>
<text x="273.9" y="353.99" font-size="5.15" text-anchor="start" fill="#111" font-weight="bold">Simplified MIPI</text>
<text x="278.9" y="359.24" font-size="5" text-anchor="start" fill="#3a3a3a">Low/Intermediate</text>
<text x="278.9" y="364.64" font-size="5" text-anchor="start" fill="#3a3a3a">High</text>
<text x="336.3" y="359.24" font-size="5" text-anchor="end" fill="#333">13</text>
<line x1="452.27" y1="357.45" x2="470" y2="357.45" stroke="#1a1a1a" stroke-width="1" />
<line x1="452.27" y1="355.45" x2="452.27" y2="359.45" stroke="#1a1a1a" stroke-width="0.95" />
<line x1="470" y1="355.45" x2="470" y2="359.45" stroke="#1a1a1a" stroke-width="0.95" />
<rect x="467.8" y="355.25" width="4.4" height="4.4" fill="#d00a24" />
<text x="510.1" y="359.35" font-size="5.3" text-anchor="end" fill="#222">100 (86.5–100)</text>
<text x="336.3" y="364.64" font-size="5" text-anchor="end" fill="#333">18</text>
<line x1="406.58" y1="362.85" x2="465.01" y2="362.85" stroke="#1a1a1a" stroke-width="1" />
<line x1="406.58" y1="360.85" x2="406.58" y2="364.85" stroke="#1a1a1a" stroke-width="0.95" />
<line x1="465.01" y1="360.85" x2="465.01" y2="364.85" stroke="#1a1a1a" stroke-width="0.95" />
<rect x="429.07" y="360.65" width="4.4" height="4.4" fill="#d00a24" />
<text x="510.1" y="364.75" font-size="5.3" text-anchor="end" fill="#222">70.5 (51.7–96.2)</text>
<text x="273.9" y="374.86" font-size="5.15" text-anchor="start" fill="#111" font-weight="bold">Extranodal disease</text>
<text x="278.9" y="380.51" font-size="5" text-anchor="start" fill="#3a3a3a">No</text>
<text x="278.9" y="385.91" font-size="5" text-anchor="start" fill="#3a3a3a">Yes</text>
<text x="336.3" y="380.51" font-size="5" text-anchor="end" fill="#333">7</text>
<line x1="440.59" y1="378.72" x2="470" y2="378.72" stroke="#1a1a1a" stroke-width="1" />
<line x1="440.59" y1="376.72" x2="440.59" y2="380.72" stroke="#1a1a1a" stroke-width="0.95" />
<line x1="470" y1="376.72" x2="470" y2="380.72" stroke="#1a1a1a" stroke-width="0.95" />
<rect x="467.8" y="376.52" width="4.4" height="4.4" fill="#d00a24" />
<text x="510.1" y="380.62" font-size="5.3" text-anchor="end" fill="#222">100 (77.6–100)</text>
<text x="336.3" y="385.91" font-size="5" text-anchor="end" fill="#333">26</text>
<line x1="421.68" y1="384.12" x2="466.32" y2="384.12" stroke="#1a1a1a" stroke-width="1" />
<line x1="421.68" y1="382.12" x2="421.68" y2="386.12" stroke="#1a1a1a" stroke-width="0.95" />
<line x1="466.32" y1="382.12" x2="466.32" y2="386.12" stroke="#1a1a1a" stroke-width="0.95" />
<rect x="439.44" y="381.92" width="4.4" height="4.4" fill="#d00a24" />
<text x="510.1" y="386.02" font-size="5.3" text-anchor="end" fill="#222">78.4 (63.2–97.2)</text>
<text x="273.9" y="396.93" font-size="5.15" text-anchor="start" fill="#111" font-weight="bold">LDH</text>
<text x="278.9" y="401.78" font-size="5" text-anchor="start" fill="#3a3a3a">≤ULN</text>
<text x="278.9" y="407.18" font-size="5" text-anchor="start" fill="#3a3a3a">&gt;ULN</text>
<text x="336.3" y="401.78" font-size="5" text-anchor="end" fill="#333">19</text>
<line x1="445.71" y1="399.99" x2="470" y2="399.99" stroke="#1a1a1a" stroke-width="1" />
<line x1="445.71" y1="397.99" x2="445.71" y2="401.99" stroke="#1a1a1a" stroke-width="0.95" />
<line x1="470" y1="397.99" x2="470" y2="401.99" stroke="#1a1a1a" stroke-width="0.95" />
<rect x="459" y="397.79" width="4.4" height="4.4" fill="#d00a24" />
<text x="510.1" y="401.89" font-size="5.3" text-anchor="end" fill="#222">93.3 (81.5–100)</text>
<text x="336.3" y="407.18" font-size="5" text-anchor="end" fill="#333">14</text>
<line x1="404.61" y1="405.39" x2="469.47" y2="405.39" stroke="#1a1a1a" stroke-width="1" />
<line x1="404.61" y1="403.39" x2="404.61" y2="407.39" stroke="#1a1a1a" stroke-width="0.95" />
<line x1="469.47" y1="403.39" x2="469.47" y2="407.39" stroke="#1a1a1a" stroke-width="0.95" />
<rect x="429.33" y="403.19" width="4.4" height="4.4" fill="#d00a24" />
<text x="510.1" y="407.29" font-size="5.3" text-anchor="end" fill="#222">70.7 (50.2–99.6)</text>
<text x="273.9" y="418.1" font-size="5.15" text-anchor="start" fill="#111" font-weight="bold">ECOG</text>
<text x="278.9" y="423.05" font-size="5" text-anchor="start" fill="#3a3a3a">0</text>
<text x="278.9" y="428.45" font-size="5" text-anchor="start" fill="#3a3a3a">1–2</text>
<text x="336.3" y="423.05" font-size="5" text-anchor="end" fill="#333">15</text>
<line x1="454.51" y1="421.26" x2="470" y2="421.26" stroke="#1a1a1a" stroke-width="1" />
<line x1="454.51" y1="419.26" x2="454.51" y2="423.26" stroke="#1a1a1a" stroke-width="0.95" />
<line x1="470" y1="419.26" x2="470" y2="423.26" stroke="#1a1a1a" stroke-width="0.95" />
<rect x="467.8" y="419.06" width="4.4" height="4.4" fill="#d00a24" />
<text x="510.1" y="423.16" font-size="5.3" text-anchor="end" fill="#222">100 (88.2–100)</text>
<text x="336.3" y="428.45" font-size="5" text-anchor="end" fill="#333">18</text>
<line x1="402.38" y1="426.66" x2="464.62" y2="426.66" stroke="#1a1a1a" stroke-width="1" />
<line x1="402.38" y1="424.66" x2="402.38" y2="428.66" stroke="#1a1a1a" stroke-width="0.95" />
<line x1="464.62" y1="424.66" x2="464.62" y2="428.66" stroke="#1a1a1a" stroke-width="0.95" />
<rect x="426.05" y="424.46" width="4.4" height="4.4" fill="#d00a24" />
<text x="510.1" y="428.56" font-size="5.3" text-anchor="end" fill="#222">68.2 (48.5–95.9)</text>
<text x="273.9" y="440.17" font-size="5.15" text-anchor="start" fill="#111" font-weight="bold">Prior bendamustine</text>
<text x="278.9" y="445.12" font-size="5" text-anchor="start" fill="#3a3a3a">No</text>
<text x="278.9" y="450.62" font-size="5" text-anchor="start" fill="#3a3a3a">Yes</text>
<text x="336.3" y="445.12" font-size="5" text-anchor="end" fill="#333">19</text>
<line x1="415.51" y1="443.33" x2="469.74" y2="443.33" stroke="#1a1a1a" stroke-width="1" />
<line x1="415.51" y1="441.33" x2="415.51" y2="445.33" stroke="#1a1a1a" stroke-width="0.95" />
<line x1="469.74" y1="441.33" x2="469.74" y2="445.33" stroke="#1a1a1a" stroke-width="0.95" />
<rect x="436.81" y="441.13" width="4.4" height="4.4" fill="#d00a24" />
<text x="510.1" y="445.23" font-size="5.3" text-anchor="end" fill="#222">76.4 (58.5–99.8)</text>
<text x="336.3" y="450.62" font-size="5" text-anchor="end" fill="#333">14</text>
<line x1="444.13" y1="448.83" x2="470" y2="448.83" stroke="#1a1a1a" stroke-width="1" />
<line x1="444.13" y1="446.83" x2="444.13" y2="450.83" stroke="#1a1a1a" stroke-width="0.95" />
<line x1="470" y1="446.83" x2="470" y2="450.83" stroke="#1a1a1a" stroke-width="0.95" />
<rect x="458.48" y="446.63" width="4.4" height="4.4" fill="#d00a24" />
<text x="510.1" y="450.73" font-size="5.3" text-anchor="end" fill="#222">92.9 (80.3–100)</text>
</g>
<rect x="0" y="0" width="520" height="1.05" fill="#000"/><rect x="0" y="0" width="1.1" height="487" fill="#000"/><rect x="518.4" y="0" width="1.6" height="487" fill="#000"/><rect x="0" y="485.7" width="520" height="1.3" fill="#000"/>
</svg>
</body></html>
